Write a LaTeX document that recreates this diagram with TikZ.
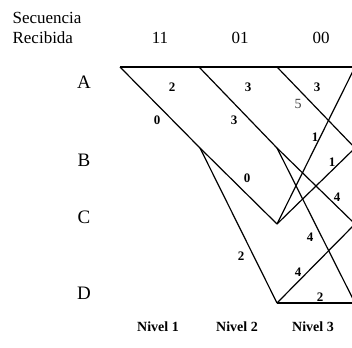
\documentclass[tikz,border=0pt]{standalone}
\usepackage{fontspec}
\setmainfont{Liberation Serif}
\begin{document}
\begin{tikzpicture}[x=0.5pt, y=-0.5pt, line width=0.6pt,
  st/.style={font=\fontsize{9.5}{10}\selectfont, inner sep=0pt},
  hdr/.style={font=\fontsize{8.5}{10}\selectfont, anchor=west, inner sep=0pt},
  sym/.style={font=\fontsize{8.5}{10}\selectfont, inner sep=0pt},
  cost/.style={font=\fontsize{6.5}{7}\selectfont\bfseries, inner sep=0pt},
  lvl/.style={font=\fontsize{7}{8}\selectfont\bfseries, inner sep=0pt}]
  \clip (0,0) rectangle (352,347);
  % trellis points
  \foreach \n/\x/\y in {A0/120/67, A1/199/67, A2/277/67, A3/355/67,
                        B1/200/148, B2/277/148, B3/355/148,
                        C2/277/224, C3/355/224, D2/277/303, D3/355/303}
    \coordinate (\n) at (\x,\y);
  % state names
  \foreach \s/\y in {A/82, B/160, C/217, D/293}
    \node[st] (lab\s) at (84,\y) {\s};
  % header
  \node[hdr] (sec) at (12,18) {Secuencia};
  \node[hdr] (rec) at (12,38) {Recibida};
  \foreach \t/\x [count=\i] in {11/160, 01/240, 00/321}
    \node[sym] (sym\i) at (\x,38) {\t};
  % branches
  \draw[line width=0.8pt] (A0) -- (A1) -- (A2) -- (A3);
  \draw (A0) -- (B1);
  \draw (A1) -- (B2) -- (C3);
  \draw (A2) -- (B3);
  \draw (B1) -- (C2);
  \draw (B1) -- (D2);
  \draw (C2) -- (A3);
  \draw (C2) -- (B3);
  \draw (B2) -- (D3);
  \draw (D2) -- (C3);
  \draw[line width=0.7pt] (D2) -- (D3);
  % accumulated metrics
  \foreach \t/\x/\y [count=\i] in {2/172/87, 0/157/120, 3/248/87, 3/234/120,
      3/317/87, 1/315/137, 1/332/162, 0/247/178, 4/337/197, 4/310/237,
      2/241/256, 4/298/272, 2/320/297}
    \node[cost] (m\i) at (\x,\y) {\t};
  \node[cost, font=\fontsize{7}{7}\selectfont, text=black!75] (m0) at (298,104) {5};
  % levels
  \foreach \x [count=\i] in {158, 237, 313}
    \node[lvl] (niv\i) at (\x,327) {Nivel \i};
\end{tikzpicture}
\end{document}
